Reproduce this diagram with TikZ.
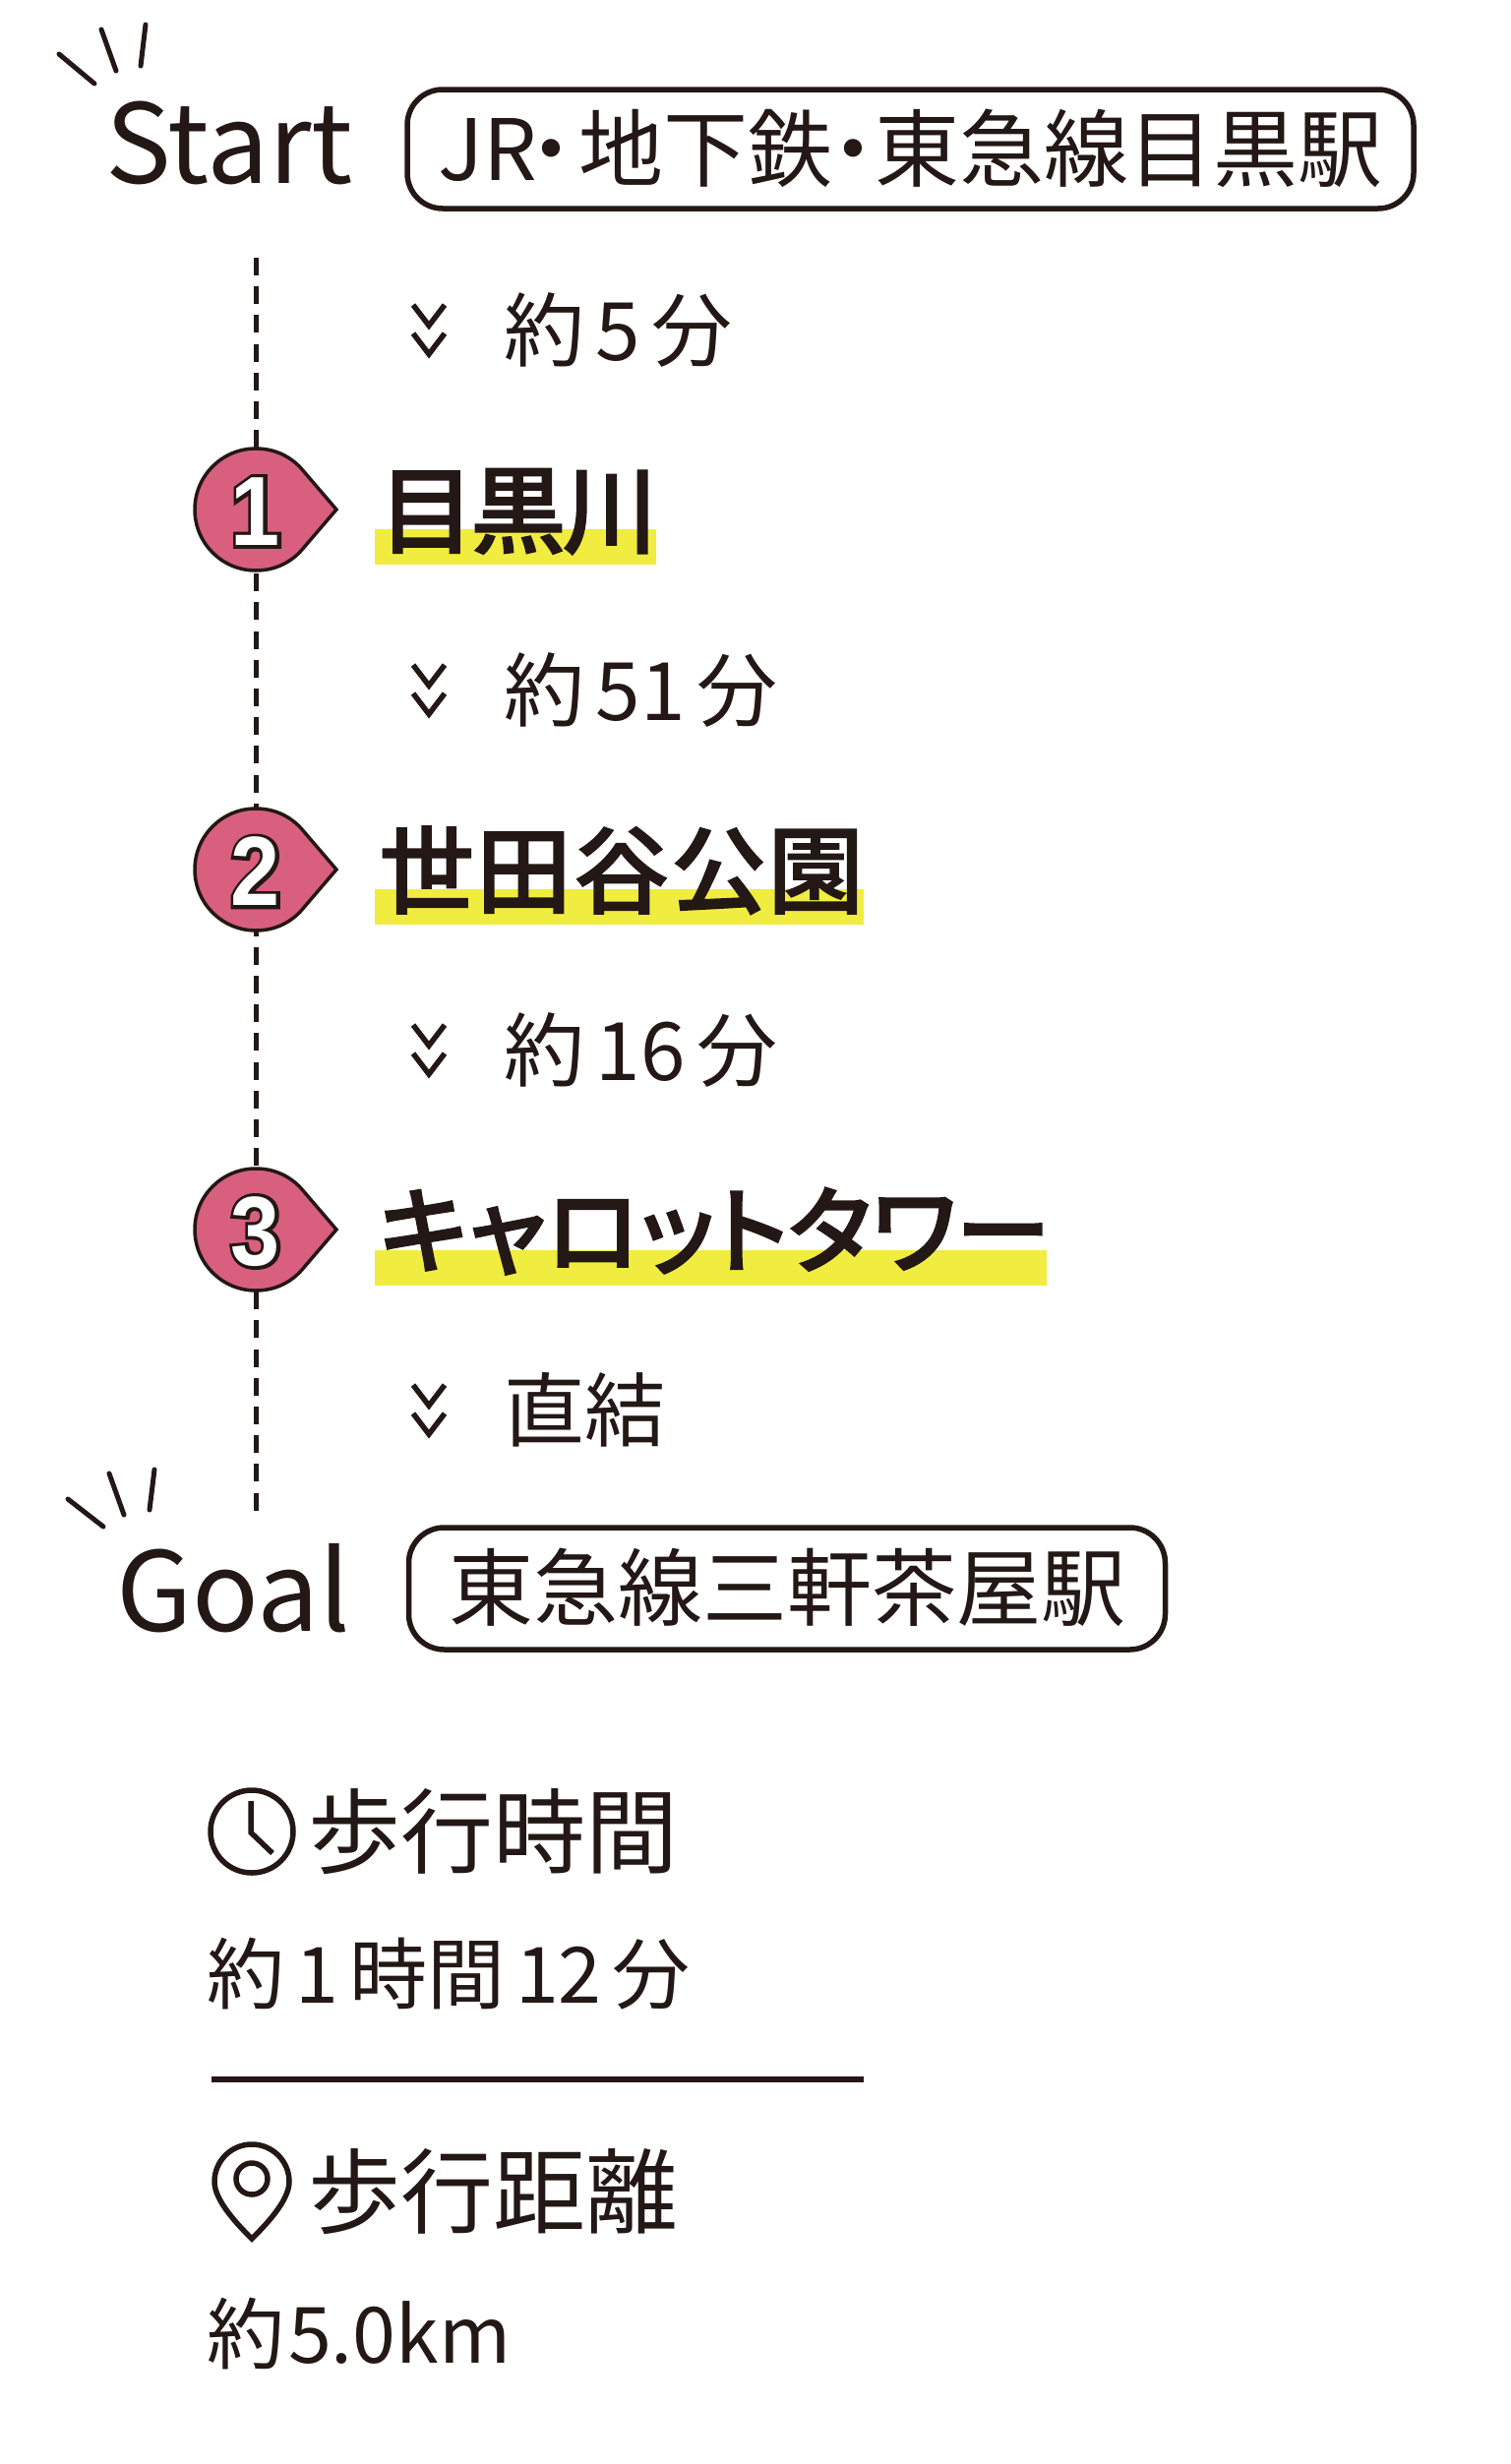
\documentclass[tikz,border=0pt]{standalone}
\usepackage{fontspec}
\setmainfont{Noto Sans CJK JP}
\newfontfamily\stopfont[RawFeature=+palt, FakeBold=1.5]{Noto Sans CJK JP Medium}
\newfontfamily\numfont[FakeStretch=0.9]{Liberation Sans}
\usepackage{xcolor}
\usetikzlibrary{positioning}
\definecolor{ink}{HTML}{231815}
\definecolor{rosepin}{HTML}{D95F7E}
\definecolor{marker}{HTML}{F0EC40}
\newcommand{\tsp}{\hspace{.14em}}
\newcommand{\outlined}[1]{\rlap{\special{pdf:code q 1 Tr 7 w 0.137 0.094 0.082 RG}#1\special{pdf:code Q}}#1}
\tikzset{
    headword/.style={
        inner sep=0pt, text=ink, anchor=base west,
        font=\fontsize{112pt}{130pt}\selectfont
    },
    stationbox/.style={
        rectangle, draw=ink, line width=5.5pt, rounded corners=36pt,
        inner sep=0pt, minimum height=121pt, text=ink,
        text height=73pt, text depth=10pt,
        font=\fontsize{86pt}{100pt}\selectfont
    },
    legtext/.style={
        inner sep=0pt, text=ink, anchor=base west,
        font=\fontsize{82pt}{96pt}\selectfont
    },
    stoptext/.style={
        inner sep=0pt, text=ink, anchor=base west,
        font=\stopfont\fontsize{97pt}{110pt}\selectfont
    },
    highlight/.style={
        rectangle, fill=marker, inner sep=0pt, anchor=north west,
        minimum height=36pt
    },
    stopnum/.style={
        inner sep=0pt, text=white, yshift=-2pt,
        font=\numfont\bfseries\fontsize{100pt}{110pt}\selectfont
    },
    infohead/.style={
        inner sep=0pt, text=ink, anchor=base west,
        font=\fontsize{94pt}{104pt}\selectfont
    },
    infotext/.style={
        inner sep=0pt, text=ink, anchor=base west,
        font=\fontsize{79pt}{90pt}\selectfont
    },
    spark/.style={line width=5pt, draw=ink, line cap=round},
    routeline/.style={draw=ink, line width=5pt, dash pattern=on 18pt off 11.2pt},
    icon/.style={draw=ink, line width=5.5pt},
    pics/stopdrop/.style={code={
        \draw[draw=ink, fill=rosepin, line width=3.5pt]
            (82,0) -- (46,42) .. controls (34,55) and (18,62) .. (0,62)
            arc[start angle=90, end angle=270, radius=62pt]
            .. controls (18,-62) and (34,-55) .. (46,-42) -- cycle;
    }},
    pics/chevrons/.style={code={
        \draw[draw=ink, line width=5.5pt] (-16,25) -- (0,4) -- (16,25);
        \draw[draw=ink, line width=5.5pt] (-16,-4) -- (0,-25) -- (16,-4);
    }}
}
\begin{document}
\begin{tikzpicture}[x=1pt, y=1pt]
    \useasboundingbox (0,0) rectangle (1536,-2505);

    % --- START ---
    \node[headword] (start) at (107,-186) {Start};
    \node[stationbox, minimum width=1023pt] (startbox) at (925.5,-151.5)
        {JR\hspace{-.34em}・\hspace{-.17em}地下鉄\hspace{-.25em}・\hspace{-.25em}東急線目黒駅};
    \draw[spark] (60,-55) -- (96,-85);
    \draw[spark] (103,-30) -- (118,-72);
    \draw[spark] (148,-25) -- (143,-67);

    % --- ROUTE LINE ---
    \coordinate (linetop) at (260,-262);
    \coordinate (linebot) at (260,-1536);
    \draw[routeline] (linetop) -- (linebot);

    % --- STOPS ---
    \coordinate (m1) at (260,-518);
    \coordinate (m2) at (260,-884);
    \coordinate (m3) at (260,-1250);
    \pic at (m1) {stopdrop};
    \pic at (m2) {stopdrop};
    \pic at (m3) {stopdrop};
    \node[stopnum] (n1) at (m1) {\outlined{1}};
    \node[stopnum] (n2) at (m2) {\outlined{2}};
    \node[stopnum] (n3) at (m3) {\outlined{3}};

    \node[highlight, minimum width=286pt] (hl1) at (381,-538) {};
    \node[highlight, minimum width=497pt] (hl2) at (381,-904) {};
    \node[highlight, minimum width=683pt] (hl3) at (381,-1271) {};
    \node[stoptext] (stop1) at (385,-555) {目\hspace{-.04em}黒\hspace{-.04em}川};
    \node[stoptext] (stop2) at (385,-921) {世\hspace{.02em}田\hspace{.02em}谷\hspace{.02em}公\hspace{.02em}園};
    \node[stoptext] (stop3) at (385,-1287) {キャロットタワー};

    % --- LEGS ---
    \pic at (436,-335) {chevrons};
    \pic at (436,-701) {chevrons};
    \pic at (436,-1067) {chevrons};
    \pic at (436,-1433) {chevrons};
    \node[legtext] (leg1) at (512,-366) {約\tsp 5\tsp 分};
    \node[legtext] (leg2) at (512,-732) {約\tsp 51\tsp 分};
    \node[legtext] (leg3) at (512,-1098) {約\tsp 16\tsp 分};
    \node[legtext] (leg4) at (512,-1464) {直結};

    % --- GOAL ---
    \node[headword] (goal) at (118,-1658) {Goal};
    \node[stationbox, minimum width=769pt, minimum height=124pt] (goalbox) at (800,-1615) {東急線三軒茶屋駅\hspace{10pt}};
    \draw[spark] (69,-1524) -- (105,-1552);
    \draw[spark] (111,-1498) -- (126,-1540);
    \draw[spark] (157,-1494) -- (152,-1535);

    % --- WALKING TIME ---
    \node[icon, circle, inner sep=0pt, minimum size=84pt] (clock) at (256,-1862) {};
    \draw[icon] (255,-1831) -- (255,-1863) -- (277,-1884);
    \node[infohead] (timehead) at (313,-1897) {歩行時間};
    \node[infotext] (timeval) at (210,-2036) {約\tsp 1\tsp 時間\tsp 12\tsp 分};

    \coordinate (ruleleft) at (215,-2114);
    \coordinate (ruleright) at (878,-2114);
    \draw[icon] (ruleleft) -- (ruleright);

    % --- WALKING DISTANCE ---
    \draw[icon] (256,-2276) .. controls (244,-2264) and (218,-2238) .. (218,-2218)
        arc[start angle=180, end angle=0, radius=38pt]
        .. controls (294,-2238) and (268,-2264) .. cycle;
    \node[icon, circle, inner sep=0pt, minimum size=32pt] (pinhole) at (256,-2215) {};
    \node[infohead] (disthead) at (313,-2263) {歩行距離};
    \node[infotext] (distval) at (210,-2402) {約\hspace{.05em}5.0km};
\end{tikzpicture}
\end{document}
